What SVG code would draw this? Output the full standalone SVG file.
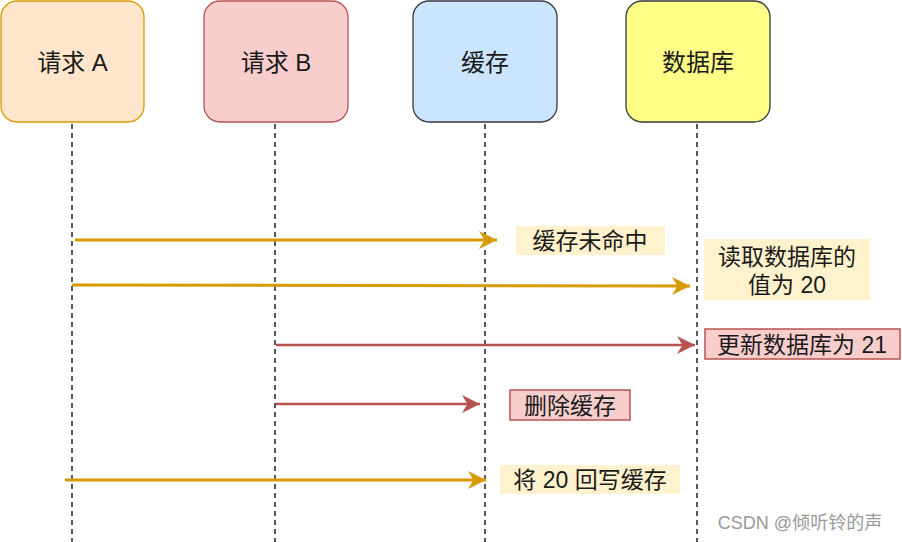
<svg xmlns="http://www.w3.org/2000/svg" width="902" height="542" viewBox="0 0 902 542">
<style>
text{font-family:"Liberation Sans","Noto Sans CJK SC",sans-serif;font-size:23px;fill:#1a1a1a}
.box{font-size:24px}
.life{stroke:#000;stroke-width:1.3;stroke-dasharray:5 4;fill:none}
.y{stroke:#d79b00;stroke-width:3;fill:none}
.r{stroke:#b85450;stroke-width:2.5;fill:none}
.lbly{fill:#fff2cc}
.lblr{fill:#f8cecc;stroke:#b85450;stroke-width:1.5}
</style>
<defs>
<marker id="yh" viewBox="0 0 10 10" markerWidth="18" markerHeight="18" refX="10" refY="5" orient="auto" markerUnits="userSpaceOnUse"><path d="M0,0 L10,5 L0,10 L3,5 Z" fill="#d79b00"/></marker>
<marker id="rh" viewBox="0 0 10 10" markerWidth="18" markerHeight="18" refX="10" refY="5" orient="auto" markerUnits="userSpaceOnUse"><path d="M0,0 L10,5 L0,10 L3,5 Z" fill="#b85450"/></marker>
</defs>
<rect width="902" height="542" fill="#fff"/>
<g id="lifelines">
<line class="life" x1="72" y1="124" x2="72" y2="542"/>
<line class="life" x1="275" y1="124" x2="275" y2="542"/>
<line class="life" x1="485" y1="124" x2="485" y2="542"/>
<line class="life" x1="697" y1="124" x2="697" y2="542"/>
</g>
<g id="reqA"><rect x="1" y="1" width="143" height="121" rx="16" fill="#ffe6cc" stroke="#d79b00" stroke-width="1.3"/><text class="box" x="72.5" y="71" text-anchor="middle">请求 A</text></g>
<g id="reqB"><rect x="204" y="1" width="144" height="121" rx="16" fill="#f8cecc" stroke="#b85450" stroke-width="1.3"/><text class="box" x="276" y="71" text-anchor="middle">请求 B</text></g>
<g id="cache"><rect x="413" y="1" width="144" height="121" rx="16" fill="#cce5ff" stroke="#36393d" stroke-width="1.3"/><text class="box" x="485" y="71" text-anchor="middle">缓存</text></g>
<g id="db"><rect x="626" y="1" width="144" height="121" rx="16" fill="#ffff88" stroke="#36393d" stroke-width="1.3"/><text class="box" x="698" y="71" text-anchor="middle">数据库</text></g>
<g id="connectors">
<line class="y" x1="75" y1="240" x2="497" y2="240" marker-end="url(#yh)"/>
<line class="y" x1="72" y1="285" x2="690" y2="286" marker-end="url(#yh)"/>
<line class="r" x1="276" y1="345" x2="695" y2="345" marker-end="url(#rh)"/>
<line class="r" x1="276" y1="404" x2="480" y2="404" marker-end="url(#rh)"/>
<line class="y" x1="65" y1="480" x2="486" y2="480" marker-end="url(#yh)"/>
</g>
<g id="lbl1"><rect class="lbly" x="516" y="226" width="149" height="29"/><text x="590" y="249" text-anchor="middle">缓存未命中</text></g>
<g id="lbl2"><rect class="lbly" x="704" y="239" width="166" height="61"/><text x="787" y="265" text-anchor="middle">读取数据库的</text><text x="787" y="293" text-anchor="middle">值为 20</text></g>
<g id="lbl3"><rect class="lblr" x="705" y="329" width="195" height="30"/><text x="802" y="353" text-anchor="middle">更新数据库为 21</text></g>
<g id="lbl4"><rect class="lblr" x="510" y="390" width="120" height="30"/><text x="570" y="414" text-anchor="middle">删除缓存</text></g>
<g id="lbl5"><rect class="lbly" x="500" y="465" width="180" height="29"/><text x="590" y="488" text-anchor="middle">将 20 回写缓存</text></g>
<text x="800" y="529" text-anchor="middle" style="font-size:18px;fill:#999">CSDN @倾听铃的声</text>
</svg>
